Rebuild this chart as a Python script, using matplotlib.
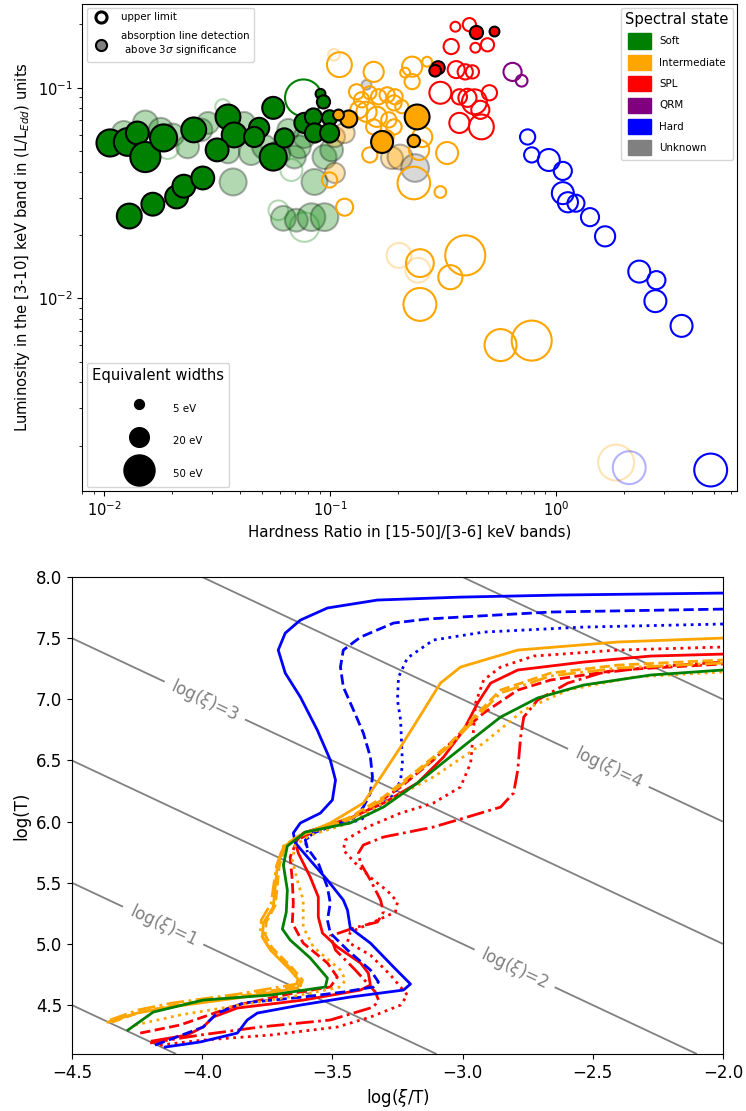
import numpy as np
import matplotlib
matplotlib.use('Agg')
import matplotlib.pyplot as plt
from matplotlib.patches import Patch
from matplotlib.lines import Line2D

# ================= TOP PANEL DATA (hardness ratio, luminosity L/LEdd, EW in eV) =================
# Soft state - detections
soft_det_hr = [0.0106, 0.0127, 0.0140, 0.0152, 0.0183, 0.0249, 0.0353, 0.0376, 0.0316, 0.0560,
               0.0485, 0.0560, 0.0627, 0.0770, 0.0844, 0.0853, 0.0995, 0.0995, 0.0907, 0.0935,
               0.0461, 0.0129, 0.0164, 0.0209, 0.0225, 0.0273]
soft_det_lum = [0.0547, 0.0553, 0.0610, 0.0469, 0.0578, 0.0631, 0.0727, 0.0597, 0.0507, 0.0803,
                0.0645, 0.0469, 0.0578, 0.0681, 0.0727, 0.0610, 0.0720, 0.0610, 0.0936, 0.0857,
                0.0584, 0.0246, 0.0280, 0.0303, 0.0341, 0.0373]
soft_det_ew = [38, 40, 27, 47, 38, 32, 32, 32, 27, 25, 21, 38, 19, 21, 15, 19, 12, 19, 5, 9,
               21, 32, 27, 27, 27, 27]
# Soft state - faded detections
soft_fdet_hr = [0.0152, 0.0201, 0.0234, 0.0268, 0.0288, 0.0353, 0.0372, 0.0416, 0.0447, 0.0511,
                0.0590, 0.0695, 0.0770, 0.0853, 0.0945, 0.1016, 0.0653, 0.0731, 0.0621, 0.0709,
                0.0827, 0.0945, 0.0122, 0.0178]
soft_fdet_lum = [0.0681, 0.0597, 0.0524, 0.0631, 0.0681, 0.0496, 0.0357, 0.0681, 0.0490, 0.0524,
                 0.0490, 0.0469, 0.0584, 0.0357, 0.0469, 0.0507, 0.0631, 0.0524, 0.0240, 0.0235,
                 0.0243, 0.0243, 0.0610, 0.0631]
soft_fdet_ew = [32, 27, 27, 27, 25, 27, 38, 25, 30, 30, 30, 27, 25, 35, 30, 27, 25, 27, 32, 27,
                40, 40, 30, 30]
# Soft state - upper limits
soft_ul_hr = [0.0762]
soft_ul_lum = [0.0896]
soft_ul_ew = [70]
soft_ful_hr = [0.0335, 0.0590, 0.0770, 0.0674, 0.0191]
soft_ful_lum = [0.0812, 0.0262, 0.0218, 0.0407, 0.0518]
soft_ful_ew = [12, 20, 45, 25, 25]

# Intermediate state
inter_det_hr = [0.121, 0.109, 0.170, 0.243, 0.235]
inter_det_lum = [0.0711, 0.0743, 0.0553, 0.0727, 0.0559]
inter_det_ew = [15, 6, 25, 32, 8]
inter_fdet_hr = [0.105, 0.105, 0.188, 0.116, 0.204]
inter_fdet_lum = [0.0584, 0.0394, 0.0464, 0.0610, 0.0469]
inter_fdet_ew = [21, 21, 25, 21, 32]
inter_ul_hr = [0.110, 0.156, 0.231, 0.269, 0.215, 0.231, 0.138, 0.150, 0.164, 0.179,
               0.194, 0.208, 0.145, 0.161, 0.182, 0.192, 0.179, 0.256, 0.248, 0.150,
               0.330, 0.235, 0.308, 0.0995, 0.116, 0.134, 0.192, 0.131, 0.156, 0.250,
               0.341, 0.397, 0.250, 0.569, 0.782]
inter_ul_lum = [0.1288, 0.119, 0.126, 0.133, 0.118, 0.107, 0.0877, 0.0947, 0.0906, 0.0926,
                0.0906, 0.0813, 0.0769, 0.0728, 0.0704, 0.0652, 0.0584, 0.0584, 0.0507, 0.048,
                0.049, 0.0353, 0.032, 0.0365, 0.0271, 0.0786, 0.0848, 0.0957, 0.0652, 0.0147,
                0.0126, 0.016, 0.00936, 0.0060, 0.0063]
inter_ul_ew = [32, 21, 21, 5, 5, 12, 12, 9, 12, 12, 12, 9, 21, 21, 12, 12, 9, 21, 21, 12,
               25, 55, 7, 12, 15, 15, 12, 12, 12, 40, 30, 83, 56, 53, 83]
inter_ful_hr = [0.202, 0.245, 1.85, 0.104]
inter_ful_lum = [0.016, 0.0136, 0.00166, 0.1436]
inter_ful_ew = [32, 32, 67, 7]

# SPL state
spl_det_hr = [0.445, 0.535, 0.301, 0.292]
spl_det_lum = [0.183, 0.185, 0.1245, 0.1205]
spl_det_ew = [9, 5, 9, 7]
spl_ul_hr = [0.359, 0.414, 0.344, 0.440, 0.498, 0.362, 0.397, 0.427, 0.308, 0.374,
             0.406, 0.508, 0.436, 0.463, 0.374, 0.468]
spl_ul_lum = [0.195, 0.1995, 0.157, 0.155, 0.160, 0.122, 0.119, 0.119, 0.0947, 0.0906,
              0.0896, 0.0947, 0.0858, 0.0786, 0.0681, 0.0652]
spl_ul_ew = [5, 9, 12, 5, 9, 15, 12, 9, 25, 12, 17, 12, 32, 17, 21, 32]

# QRM state
qrm_ul_hr = [0.643, 0.706]
qrm_ul_lum = [0.119, 0.108]
qrm_ul_ew = [17, 7]

# Hard state
hard_ul_hr = [0.750, 0.782, 0.931, 1.074, 1.074, 1.131, 1.228, 1.417, 1.653, 2.342,
              2.789, 2.761, 3.605, 4.853]
hard_ul_lum = [0.0584, 0.048, 0.0454, 0.0403, 0.0316, 0.0286, 0.0283, 0.0243, 0.0197, 0.0134,
               0.0122, 0.0097, 0.0074, 0.00153]
hard_ul_ew = [12, 12, 25, 17, 25, 21, 15, 17, 21, 25, 17, 25, 25, 56]
hard_ful_hr = [2.114]
hard_ful_lum = [0.00157]
hard_ful_ew = [56]

# Unknown state
unk_fdet_hr = [0.145, 0.238]
unk_fdet_lum = [0.1033, 0.0416]
unk_fdet_ew = [5, 40]

state_names = ['Soft', 'Intermediate', 'SPL', 'QRM', 'Hard', 'Unknown']
state_colors = ['green', 'orange', 'red', 'purple', 'blue', 'gray']
ew_legend = [5, 20, 50]

# ================= BOTTOM PANEL DATA: stability curves (log(xi/T), log T) =================
hard_solid_x = [-4.142, -4.008, -3.865, -3.827, -3.788, -3.623, -3.431, -3.227, -3.2, -3.265,
                -3.354, -3.431, -3.442, -3.458, -3.519, -3.596, -3.642, -3.65, -3.623, -3.546,
                -3.5, -3.488, -3.508, -3.558, -3.623, -3.681, -3.708, -3.681, -3.623, -3.519,
                -3.327, -3.008, -2.623, -2.0]
hard_solid_y = [4.157, 4.198, 4.271, 4.378, 4.435, 4.5, 4.566, 4.623, 4.672, 4.811,
                5.007, 5.13, 5.277, 5.359, 5.522, 5.711, 5.825, 5.907, 5.989, 6.07,
                6.177, 6.34, 6.504, 6.749, 7.019, 7.215, 7.403, 7.542, 7.648, 7.747,
                7.812, 7.836, 7.853, 7.869]
hard_dash_x = [-4.181, -4.058, -3.996, -3.942, -3.842, -3.612, -3.458, -3.342, -3.323, -3.354,
               -3.442, -3.508, -3.519, -3.508, -3.519, -3.554, -3.596, -3.604, -3.573, -3.488,
               -3.419, -3.381, -3.354, -3.346, -3.354, -3.381, -3.419, -3.458, -3.469, -3.458,
               -3.392, -3.265, -3.135, -3.008, -2.662, -2.0]
hard_dash_y = [4.173, 4.271, 4.321, 4.435, 4.517, 4.566, 4.607, 4.648, 4.689, 4.787,
               4.95, 5.089, 5.195, 5.334, 5.465, 5.661, 5.784, 5.85, 5.907, 5.972,
               6.029, 6.119, 6.234, 6.365, 6.528, 6.724, 6.913, 7.101, 7.264, 7.403,
               7.509, 7.624, 7.657, 7.673, 7.714, 7.738]
hard_dot_x = [-2.0, -2.535, -2.919, -3.112, -3.212, -3.246, -3.25, -3.238, -3.231, -3.238,
              -3.265, -3.304, -3.392, -3.481, -3.565, -3.604, -3.596]
hard_dot_y = [7.616, 7.591, 7.55, 7.485, 7.338, 7.182, 6.994, 6.831, 6.479, 6.34,
              6.218, 6.152, 6.013, 5.972, 5.915, 5.85, 5.75]

inter_solid_x = [-4.362, -4.25, -4.123, -3.865, -3.635, -3.623, -3.662, -3.738, -3.769, -3.765,
                 -3.727, -3.712, -3.688, -3.635, -3.508, -3.381, -3.304, -3.238, -3.173, -3.085,
                 -3.008, -2.788, -2.404, -2.0]
inter_solid_y = [4.361, 4.435, 4.484, 4.558, 4.639, 4.689, 4.787, 4.95, 5.056, 5.171,
                 5.302, 5.629, 5.792, 5.874, 5.989, 6.152, 6.397, 6.61, 6.831, 7.133,
                 7.264, 7.403, 7.469, 7.501]
inter_dash_x = [-4.346, -4.238, -4.104, -3.854, -3.623, -3.615, -3.654, -3.731, -3.758, -3.754,
                -3.719, -3.704, -3.681, -3.623, -3.508, -3.431, -3.304, -3.173, -3.046, -2.942,
                -2.854, -2.662, -2.404, -2.0]
inter_dash_y = [4.361, 4.443, 4.5, 4.574, 4.656, 4.705, 4.803, 4.967, 5.073, 5.179,
                5.318, 5.637, 5.8, 5.89, 5.972, 6.038, 6.201, 6.422, 6.643, 6.888,
                7.076, 7.215, 7.28, 7.322]
inter_dashdot_x = [-4.354, -4.246, -4.115, -3.862, -3.638, -3.631, -3.669, -3.746, -3.777, -3.773,
                   -3.735, -3.715, -3.688, -3.631, -3.508, -3.431, -3.304, -3.173, -3.046, -2.942,
                   -2.854, -2.662, -2.404, -2.0]
inter_dashdot_y = [4.378, 4.46, 4.517, 4.59, 4.672, 4.721, 4.819, 4.983, 5.089, 5.195,
                   5.334, 5.637, 5.8, 5.882, 5.964, 6.021, 6.185, 6.406, 6.626, 6.863,
                   7.052, 7.191, 7.256, 7.297]
inter_dot_x = [-4.258, -4.085, -3.854, -3.623, -3.469, -3.45, -3.469, -3.573, -3.612, -3.612,
               -3.635, -3.654, -3.642, -3.585, -3.431, -3.304, -3.112, -2.919, -2.765, -2.596,
               -2.342, -2.0]
inter_dot_y = [4.337, 4.419, 4.5, 4.582, 4.648, 4.705, 4.787, 4.975, 5.138, 5.359,
               5.522, 5.686, 5.809, 5.89, 5.989, 6.152, 6.365, 6.643, 6.913, 7.076,
               7.182, 7.224]

soft_solid_x = [-4.285, -4.188, -3.996, -3.738, -3.527, -3.519, -3.585, -3.662, -3.692, -3.677,
                -3.673, -3.688, -3.673, -3.604, -3.431, -3.304, -3.173, -2.981, -2.854, -2.712,
                -2.535, -2.277, -2.0]
soft_solid_y = [4.296, 4.443, 4.541, 4.582, 4.648, 4.721, 4.885, 5.032, 5.122, 5.261,
                5.441, 5.645, 5.8, 5.915, 5.989, 6.119, 6.316, 6.643, 6.855, 7.011,
                7.117, 7.199, 7.24]

spl_solid_x = [-4.192, -4.058, -3.996, -3.958, -3.865, -3.612, -3.392, -3.354, -3.362, -3.392,
               -3.481, -3.538, -3.554, -3.554, -3.585, -3.631, -3.642, -3.612, -3.431, -3.304,
               -3.173, -3.073, -2.996, -2.942, -2.892, -2.788, -2.535, -2.277, -2.0]
spl_solid_y = [4.206, 4.255, 4.321, 4.402, 4.476, 4.541, 4.623, 4.664, 4.762, 4.844,
               4.975, 5.089, 5.22, 5.384, 5.547, 5.743, 5.833, 5.907, 6.029, 6.152,
               6.316, 6.528, 6.749, 6.97, 7.133, 7.24, 7.305, 7.354, 7.37]
spl_dash_x = [-4.238, -4.085, -3.865, -3.65, -3.508, -3.481, -3.519, -3.612, -3.654, -3.65,
              -3.654, -3.662, -3.635, -3.546, -3.431, -3.365, -3.238, -3.112, -3.008, -2.919,
              -2.788, -2.662, -2.404, -2.0]
spl_dash_y = [4.271, 4.337, 4.5, 4.598, 4.648, 4.729, 4.844, 5.007, 5.171, 5.334,
              5.522, 5.711, 5.85, 5.948, 6.029, 6.095, 6.283, 6.504, 6.724, 6.888,
              7.076, 7.158, 7.24, 7.289]
spl_dashdot_x = [-4.2, -4.008, -3.777, -3.508, -3.342, -3.323, -3.335, -3.412, -3.488, -3.508,
                 -3.419, -3.327, -3.304, -3.315, -3.354, -3.392, -3.4, -3.381, -3.304, -3.112,
                 -2.981, -2.854, -2.804, -2.788, -2.777, -2.765, -2.712, -2.596, -2.469, -2.277,
                 -2.0]
spl_dashdot_y = [4.19, 4.255, 4.321, 4.378, 4.484, 4.541, 4.607, 4.787, 4.95, 5.065,
                 5.13, 5.179, 5.261, 5.359, 5.522, 5.661, 5.743, 5.809, 5.874, 5.956,
                 6.038, 6.119, 6.234, 6.422, 6.692, 6.855, 6.994, 7.133, 7.215, 7.264,
                 7.305]
spl_dot_x = [-4.162, -3.996, -3.738, -3.481, -3.354, -3.238, -3.212, -3.277, -3.354, -3.442,
             -3.431, -3.342, -3.258, -3.25, -3.288, -3.342, -3.412, -3.458, -3.45, -3.365,
             -3.238, -3.112, -3.008, -2.969, -2.958, -2.95, -2.919, -2.854, -2.727, -2.404,
             -2.0]
spl_dot_y = [4.173, 4.214, 4.255, 4.321, 4.402, 4.5, 4.582, 4.746, 4.909, 5.016,
             5.097, 5.179, 5.261, 5.343, 5.433, 5.522, 5.661, 5.768, 5.85, 5.956,
             6.07, 6.152, 6.283, 6.479, 6.749, 6.97, 7.158, 7.264, 7.354, 7.403,
             7.428]

xi_plain_levels = [0, 5, 6]
xi_label_levels = [1, 2, 3, 4]
xi_label_pos = [(-4.15, 5.15), (-2.80, 4.80), (-3.99, 6.99), (-2.44, 6.44)]

# ================= FIGURE =================
fig = plt.figure(figsize=(7.46, 11.11), dpi=100)
ax1 = fig.add_axes([0.1105, 0.5583, 0.8775, 0.4381])
ax2 = fig.add_axes([0.0965, 0.0513, 0.8726, 0.4293])


def draw(ax, hr, lum, ew, color, filled, faded):
    s = 10 * np.asarray(ew, dtype=float)
    a = 0.3 if faded else 1.0
    if filled:
        ax.scatter(hr, lum, s=s, facecolors=color, edgecolors='black', linewidths=1.5,
                   alpha=a, zorder=3 if not faded else 2)
    else:
        ax.scatter(hr, lum, s=s, facecolors='none', edgecolors=color, linewidths=1.5,
                   alpha=a, zorder=2.5 if not faded else 2)


draw(ax1, soft_fdet_hr, soft_fdet_lum, soft_fdet_ew, 'green', True, True)
draw(ax1, soft_ful_hr, soft_ful_lum, soft_ful_ew, 'green', False, True)
draw(ax1, inter_fdet_hr, inter_fdet_lum, inter_fdet_ew, 'orange', True, True)
draw(ax1, inter_ful_hr, inter_ful_lum, inter_ful_ew, 'orange', False, True)
draw(ax1, hard_ful_hr, hard_ful_lum, hard_ful_ew, 'blue', False, True)
draw(ax1, unk_fdet_hr, unk_fdet_lum, unk_fdet_ew, 'gray', True, True)
draw(ax1, soft_ul_hr, soft_ul_lum, soft_ul_ew, 'green', False, False)
draw(ax1, inter_ul_hr, inter_ul_lum, inter_ul_ew, 'orange', False, False)
draw(ax1, spl_ul_hr, spl_ul_lum, spl_ul_ew, 'red', False, False)
draw(ax1, qrm_ul_hr, qrm_ul_lum, qrm_ul_ew, 'purple', False, False)
draw(ax1, hard_ul_hr, hard_ul_lum, hard_ul_ew, 'blue', False, False)
draw(ax1, soft_det_hr, soft_det_lum, soft_det_ew, 'green', True, False)
draw(ax1, inter_det_hr, inter_det_lum, inter_det_ew, 'orange', True, False)
draw(ax1, spl_det_hr, spl_det_lum, spl_det_ew, 'red', True, False)

ax1.set_xscale('log')
ax1.set_yscale('log')
ax1.set_xlim(0.0080, 6.35)
ax1.set_ylim(0.00122, 0.25)
ax1.tick_params(labelsize=10.5)
ax1.set_xlabel('Hardness Ratio in [15-50]/[3-6] keV bands)', fontsize=10.8)
ax1.set_ylabel('Luminosity in the [3-10] keV band in (L/L$_{Edd}$) units', fontsize=10.6)

h_ul = Line2D([], [], marker='o', ls='none', mfc='white', mec='black', mew=2.2, ms=8)
h_det = Line2D([], [], marker='o', ls='none', mfc='gray', mec='black', mew=1.5, ms=8)
leg1 = ax1.legend([h_ul, h_det], ['upper limit', 'absorption line detection\n above 3$\\sigma$ significance'],
                  loc='upper left', fontsize=7.4, handletextpad=1.0, borderaxespad=0.4,
                  labelspacing=0.9)
ax1.add_artist(leg1)

patches = [Patch(color=c, label=n) for n, c in zip(state_names, state_colors)]
leg2 = ax1.legend(handles=patches, title='Spectral state', title_fontsize=10.6, fontsize=7.4,
                  loc='upper right', handlelength=2.2, handleheight=1.9, labelspacing=0.6,
                  borderaxespad=0.4)
ax1.add_artist(leg2)

ew_handles = [ax1.scatter([], [], s=10 * e, c='black') for e in ew_legend]
leg3 = ax1.legend(ew_handles, [f'{e} eV' for e in ew_legend], title='Equivalent widths',
                  title_fontsize=10.6, fontsize=7.4, loc='lower left', labelspacing=1.7,
                  handleheight=1.9, scatteryoffsets=[0.5],
                  handlelength=5.0, handletextpad=0.8, borderpad=0.5, borderaxespad=0.4)

# ---- bottom panel ----
gx = np.linspace(-4.5, -2.0, 300)
gy = np.linspace(4.1, 8.0, 300)
GX, GY = np.meshgrid(gx, gy)
ax2.contour(GX, GY, GX + GY, levels=xi_plain_levels, colors='gray', linewidths=1.3)
cs = ax2.contour(GX, GY, GX + GY, levels=xi_label_levels, colors='gray', linewidths=1.3)
ax2.clabel(cs, manual=xi_label_pos, inline=True, inline_spacing=8,
           fontsize=12, fmt=lambda v: 'log($\\xi$)=%d' % round(v))

lw = 2.0
kw = dict(lw=lw, solid_joinstyle='round', dash_joinstyle='round')
ax2.plot(spl_dot_x, spl_dot_y, color='red', ls=':', **kw)
ax2.plot(spl_dashdot_x, spl_dashdot_y, color='red', ls='-.', **kw)
ax2.plot(spl_dash_x, spl_dash_y, color='red', ls='--', **kw)
ax2.plot(spl_solid_x, spl_solid_y, color='red', ls='-', **kw)
ax2.plot(hard_dot_x, hard_dot_y, color='blue', ls=':', **kw)
ax2.plot(hard_dash_x, hard_dash_y, color='blue', ls='--', **kw)
ax2.plot(hard_solid_x, hard_solid_y, color='blue', ls='-', **kw)
ax2.plot(inter_dot_x, inter_dot_y, color='orange', ls=':', **kw)
ax2.plot(inter_dashdot_x, inter_dashdot_y, color='orange', ls='-.', **kw)
ax2.plot(inter_dash_x, inter_dash_y, color='orange', ls='--', **kw)
ax2.plot(inter_solid_x, inter_solid_y, color='orange', ls='-', **kw)
ax2.plot(soft_solid_x, soft_solid_y, color='green', ls='-', **kw)

ax2.set_xlim(-4.5, -2.0)
ax2.set_ylim(4.1, 8.0)
ax2.set_xticks([-4.5, -4.0, -3.5, -3.0, -2.5, -2.0])
ax2.set_yticks([4.5, 5.0, 5.5, 6.0, 6.5, 7.0, 7.5, 8.0])
ax2.tick_params(labelsize=12)
ax2.set_xlabel('log($\\xi$/T)', fontsize=12)
ax2.set_ylabel('log(T)', fontsize=12)

fig.savefig('out.png', dpi=100)
